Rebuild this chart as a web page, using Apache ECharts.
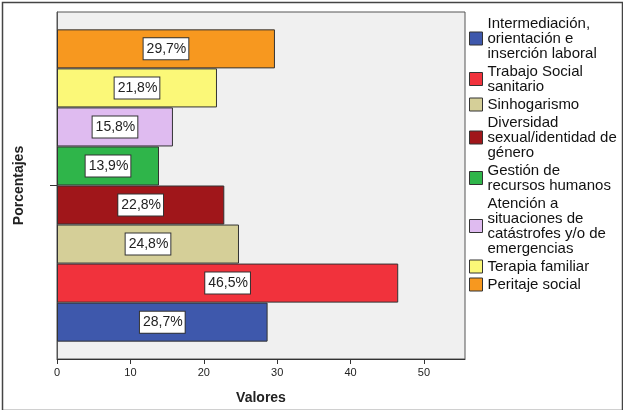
<!DOCTYPE html>
<html><head><meta charset="utf-8">
<script src="https://cdn.jsdelivr.net/npm/echarts@6/dist/echarts.min.js"></script>
<style>html,body{margin:0;padding:0;background:#fff}#c{width:623px;height:410px}</style>
</head><body><div id="c"></div>
<script>
const categories = ['Porcentajes'];
const seriesNames = [
  'Intermediación,\norientación e\ninserción laboral',
  'Trabajo Social\nsanitario',
  'Sinhogarismo',
  'Diversidad\nsexual/identidad de\ngénero',
  'Gestión de\nrecursos humanos',
  'Atención a\nsituaciones de\ncatástrofes y/o de\nemergencias',
  'Terapia familiar',
  'Peritaje social'
];
const values = [28.7, 46.5, 24.8, 22.8, 13.9, 15.8, 21.8, 29.7];
const colors = ['#3e58ac', '#f1323c', '#d5cf98', '#a0161a', '#2fb54a', '#dfbbf0', '#fbf878', '#f7981f'];
const xTicks = [0, 10, 20, 30, 40, 50];

const font = 'Liberation Sans, Arial, sans-serif';
const order = seriesNames.map((_, i) => i).reverse();
const chart = echarts.init(document.getElementById('c'));
chart.setOption({
  animation: false,
  textStyle: {fontFamily: font},
  grid: {left: 57, top: 12, right: 158, bottom: 51, show: true, backgroundColor: '#f0f0f0', borderColor: '#555', borderWidth: 1},
  xAxis: {
    type: 'value', min: 0, max: 55.6,
    name: 'Valores', nameLocation: 'middle', nameGap: 32,
    nameTextStyle: {fontFamily: font, fontSize: 14, fontWeight: 'bold', color: '#222'},
    axisLine: {show: true, lineStyle: {color: '#333'}},
    axisTick: {show: true, length: 5, lineStyle: {color: '#333'}, customValues: xTicks},
    axisLabel: {fontSize: 11, color: '#222', margin: 8, customValues: xTicks},
    splitLine: {show: false}
  },
  yAxis: {
    type: 'category', data: categories,
    name: 'Porcentajes', nameLocation: 'middle', nameGap: 31, nameRotate: 90,
    nameTextStyle: {fontFamily: font, fontSize: 14, fontWeight: 'bold', color: '#222'},
    axisLine: {show: true, lineStyle: {color: '#555'}},
    axisTick: {show: true, alignWithLabel: true, length: 7, lineStyle: {color: '#333'}},
    axisLabel: {show: false}
  },
  legend: {
    orient: 'vertical', left: 469, top: 16, itemGap: 3, padding: 0,
    itemWidth: 13, itemHeight: 13, icon: 'rect',
    itemStyle: {borderColor: '#333', borderWidth: 1},
    textStyle: {fontFamily: font, fontSize: 15, lineHeight: 15, color: '#111'},
    data: seriesNames
  },
  series: order.map(i => ({
    type: 'bar', name: seriesNames[i], data: [values[i]],
    barGap: '0%', barCategoryGap: '10%',
    itemStyle: {color: colors[i], borderColor: '#333', borderWidth: 1},
    label: {
      show: true, position: 'inside', fontFamily: font, fontSize: 14, color: '#222',
      backgroundColor: '#fff', borderColor: '#333', borderWidth: 1, padding: [4, 2, 3, 3],
      formatter: p => String(p.value).replace('.', ',') + '%'
    }
  })),
  graphic: [{type: 'rect', left: 0, top: 0, shape: {x: 0.5, y: 0.5, width: 620, height: 408}, style: {fill: 'none', stroke: '#444', lineWidth: 1.5}, silent: true}]
});
</script></body></html>
